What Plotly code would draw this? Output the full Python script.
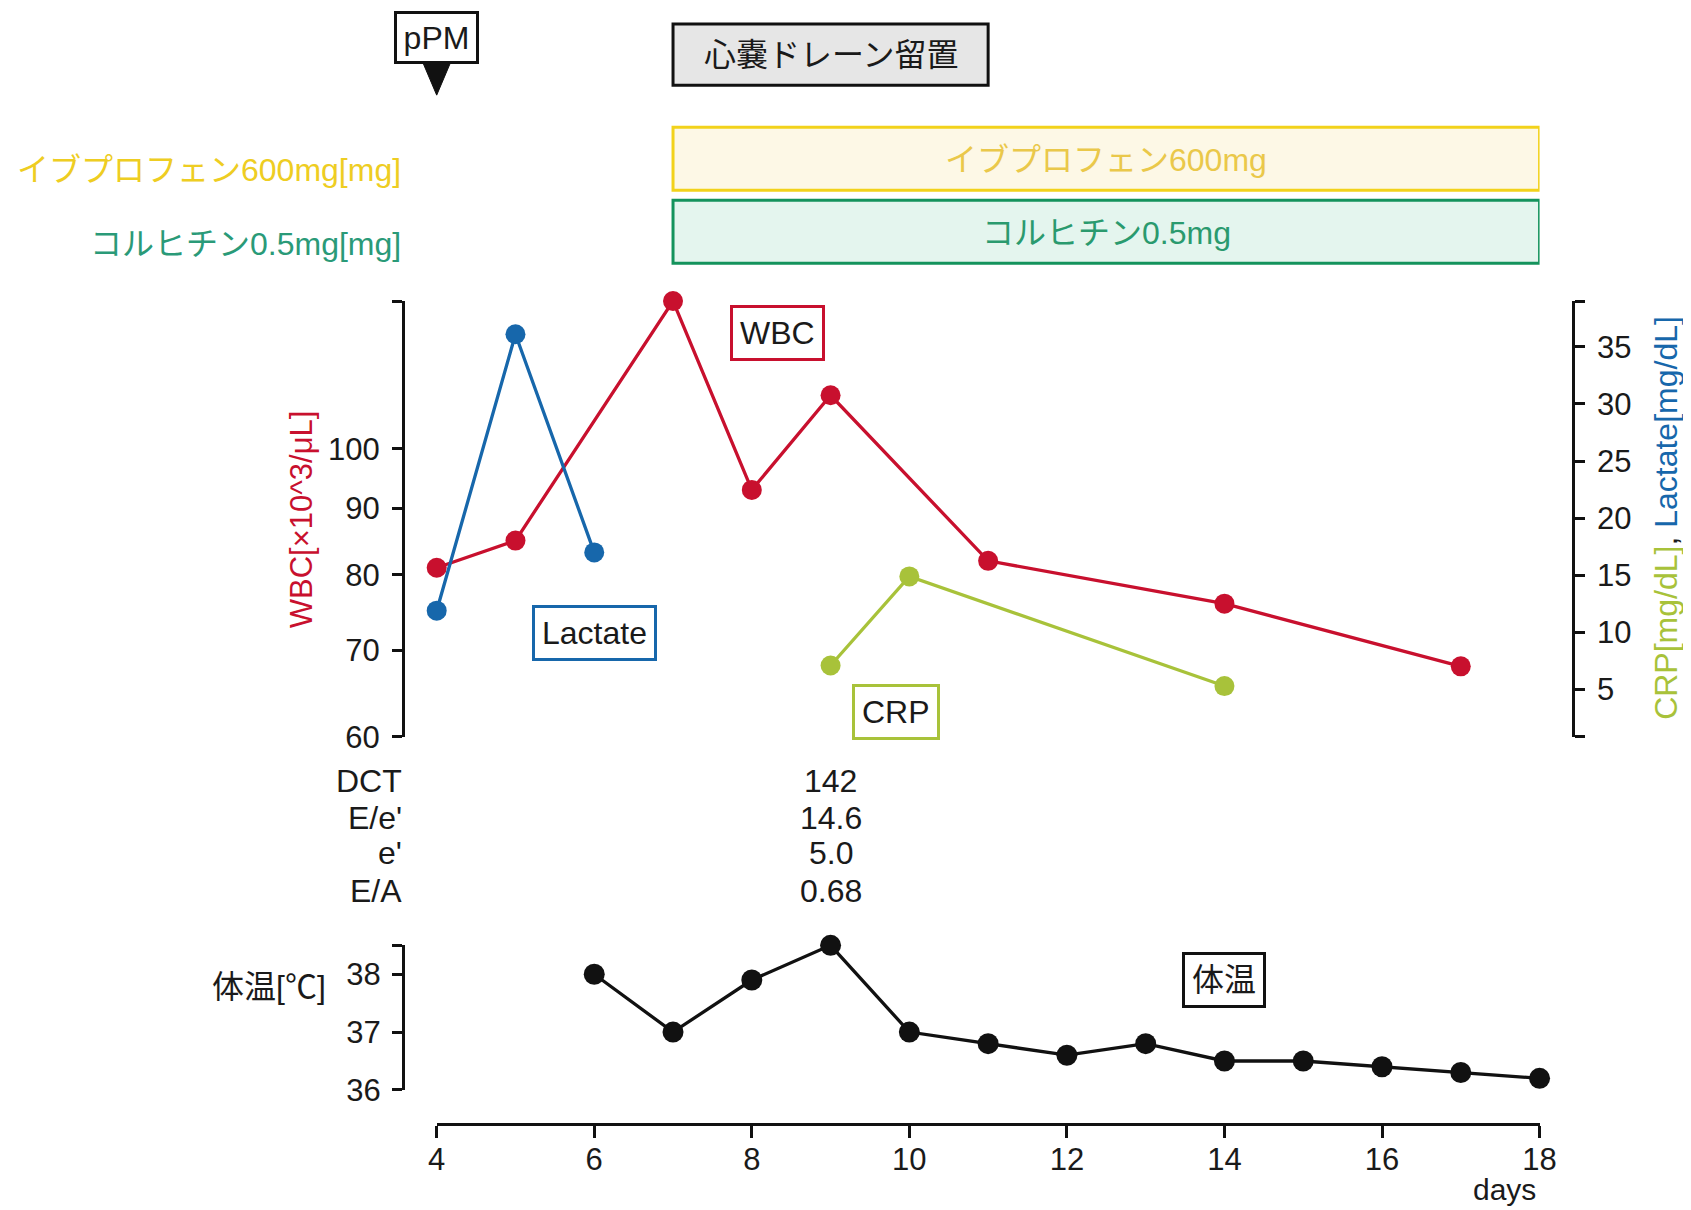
import math
import plotly.graph_objects as go

# ---------------- data ----------------
days_wbc = [4, 5, 7, 8, 9, 11, 14, 17]
wbc = [81, 85, 130, 93, 110, 82, 76, 68]

days_lac = [4, 5, 6]
lactate = [11.9, 36.1, 17.0]

days_crp = [9, 10, 14]
crp = [7.1, 14.9, 5.3]

days_temp = [6, 7, 8, 9, 10, 11, 12, 13, 14, 15, 16, 17, 18]
temp = [38.0, 37.0, 37.9, 38.5, 37.0, 36.8, 36.6, 36.8, 36.5, 36.5, 36.4, 36.3, 36.2]

echo_labels = ["DCT", "E/e'", "e'", "E/A"]
echo_day = 9
echo_values = ["142", "14.6", "5.0", "0.68"]

treat_names = ["イブプロフェン600mg", "コルヒチン0.5mg"]
treat_axis_labels = ["イブプロフェン600mg[mg]", "コルヒチン0.5mg[mg]"]
treat_start = [7, 7]
treat_end = [18, 18]

drain_label = "心嚢ドレーン留置"
drain_start, drain_end = 7, 11

event_label = "pPM"
event_day = 4

x_ticks = [4, 6, 8, 10, 12, 14, 16, 18]
wbc_ticks = [60, 70, 80, 90, 100]
right_ticks = [5, 10, 15, 20, 25, 30, 35]
temp_ticks = [36, 37, 38]

# ---------------- layout geometry ----------------
W, H = 1700, 1220          # figure size
MARGIN = 8                 # default page margin around the plot div
SCALE, OFFX = 0.985, 8.0   # observed page -> picture mapping


def px(sx):
    """target picture x pixel -> paper fraction"""
    return ((sx - OFFX) / SCALE - MARGIN) / W


def py(sy):
    """target picture y pixel -> paper fraction"""
    return 1 - (sy / SCALE - MARGIN) / H


FONT = "Liberation Sans, Arial, Noto Sans CJK JP, sans-serif"
FS = 32
TICKFS = 31
TXT = "#1a1a1a"
RED = "#c8102e"
BLUE = "#1767ab"
LIME = "#a8c23a"
BLACK = "#111111"
YEL_LINE, YEL_FILL, YEL_TXT = "#f2d21b", "#fdf8e6", "#eac84a"
GRN_LINE, GRN_FILL, GRN_TXT = "#14935c", "#e4f5ee", "#2a9a6e"
LW = 3.3

X_RANGE = [4, 18]
WBC_RANGE = [60, 130]
RIGHT_RANGE = [0.85, 39.0]
TEMP_RANGE = [36, 38.5]

fig = go.Figure()

line_kw = dict(mode="lines+markers", cliponaxis=False, showlegend=False)
fig.add_trace(go.Scatter(x=days_wbc, y=wbc, yaxis="y", line=dict(color=RED, width=LW),
                         marker=dict(size=20, color=RED), **line_kw))
fig.add_trace(go.Scatter(x=days_lac, y=lactate, yaxis="y2", line=dict(color=BLUE, width=LW),
                         marker=dict(size=20, color=BLUE), **line_kw))
fig.add_trace(go.Scatter(x=days_crp, y=crp, yaxis="y2", line=dict(color=LIME, width=LW),
                         marker=dict(size=20, color=LIME), **line_kw))
fig.add_trace(go.Scatter(x=days_temp, y=temp, yaxis="y3", line=dict(color=BLACK, width=LW),
                         marker=dict(size=21, color=BLACK), **line_kw))

axis_common = dict(showline=True, linewidth=3.2, linecolor=BLACK, ticks="outside",
                   tickwidth=3.2, tickcolor=BLACK, showgrid=False, zeroline=False,
                   tickfont=dict(size=TICKFS, color=TXT), tickmode="array")

shapes = []
annotations = []

# treatment bars
bar_y = [(127, 190), (200, 263)]
bar_cols = [(YEL_LINE, YEL_FILL, YEL_TXT), (GRN_LINE, GRN_FILL, GRN_TXT)]
label_y = [170, 244]
label_cols = ["#eecd22", "#2a9a78"]
for i, name in enumerate(treat_names):
    lc, fc, tc = bar_cols[i]
    shapes.append(dict(type="rect", xref="x", yref="paper", x0=treat_start[i], x1=treat_end[i],
                       y0=py(bar_y[i][1]), y1=py(bar_y[i][0]), fillcolor=fc,
                       line=dict(color=lc, width=3), layer="below"))
    annotations.append(dict(text=name, xref="x", yref="paper",
                            x=(treat_start[i] + treat_end[i]) / 2,
                            y=py((bar_y[i][0] + bar_y[i][1]) / 2 + 1), showarrow=False,
                            font=dict(size=FS, color=tc), xanchor="center", yanchor="middle"))
    annotations.append(dict(text=treat_axis_labels[i], xref="paper", yref="paper",
                            x=px(402), y=py(label_y[i]), showarrow=False,
                            font=dict(size=FS, color=label_cols[i]),
                            xanchor="right", yanchor="middle"))

# drain box
shapes.append(dict(type="rect", xref="x", yref="paper", x0=drain_start, x1=drain_end,
                   y0=py(85), y1=py(24), fillcolor="#e6e6e6",
                   line=dict(color=BLACK, width=3), layer="below"))
annotations.append(dict(text=drain_label, xref="x", yref="paper",
                        x=(drain_start + drain_end) / 2, y=py(55), showarrow=False,
                        font=dict(size=FS, color=TXT), xanchor="center", yanchor="middle"))

# pPM event marker (box + downward triangle)
annotations.append(dict(text=event_label, xref="x", yref="paper", x=event_day, y=py(37),
                        showarrow=False, font=dict(size=FS, color=TXT), bgcolor="white",
                        bordercolor=BLACK, borderwidth=3, borderpad=0, width=79, height=47,
                        xanchor="center", yanchor="middle"))
event_frac = (event_day - X_RANGE[0]) / (X_RANGE[1] - X_RANGE[0])
shapes.append(dict(type="path", xref="x domain", yref="paper", xsizemode="pixel",
                   ysizemode="pixel", xanchor=event_frac, yanchor=py(62),
                   path="M -14 0 L 14 0 L 0 -33 Z",
                   fillcolor=BLACK, line=dict(color=BLACK, width=1)))

# series label boxes
boxes = [("WBC", RED, 8.33, 333), ("Lactate", BLUE, 6.0, 633),
         ("CRP", LIME, 9.83, 712), ("体温", BLACK, 14.0, 980)]
for text, col, xd, yp in boxes:
    annotations.append(dict(text=text, xref="x", yref="paper", x=xd, y=py(yp),
                            showarrow=False, font=dict(size=FS, color=TXT), bgcolor="white",
                            bordercolor=col, borderwidth=3, borderpad=7,
                            xanchor="center", yanchor="middle"))

# echo table
echo_y = [781, 818, 853, 891]
for lab, val, yy in zip(echo_labels, echo_values, echo_y):
    annotations.append(dict(text=lab, xref="paper", yref="paper", x=px(403), y=py(yy),
                            showarrow=False, font=dict(size=FS, color=TXT),
                            xanchor="right", yanchor="middle"))
    annotations.append(dict(text=val, xref="x", yref="paper", x=echo_day, y=py(yy),
                            showarrow=False, font=dict(size=FS, color=TXT),
                            xanchor="center", yanchor="middle"))

# axis titles
annotations.append(dict(text="WBC[×10^3/μL]", xref="paper", yref="paper", x=px(300), y=py(519),
                        textangle=-90, showarrow=False, font=dict(size=FS - 1, color=RED),
                        xanchor="center", yanchor="middle"))
annotations.append(dict(text=f"<span style='color:{LIME}'>CRP[mg/dL]</span>, "
                             f"<span style='color:{BLUE}'>Lactate[mg/dL]</span>",
                        xref="paper", yref="paper", x=px(1666), y=py(518), textangle=-90,
                        showarrow=False, font=dict(size=FS, color=TXT),
                        xanchor="center", yanchor="middle"))
annotations.append(dict(text="体温[℃]", xref="paper", yref="paper", x=px(327), y=py(987),
                        showarrow=False, font=dict(size=FS, color=TXT),
                        xanchor="right", yanchor="middle"))
annotations.append(dict(text="days", xref="paper", yref="paper", x=px(1504), y=py(1189),
                        showarrow=False, font=dict(size=30, color=TXT),
                        xanchor="center", yanchor="middle"))

fig.update_layout(
    width=W, height=H, margin=dict(l=0, r=0, t=0, b=0),
    paper_bgcolor="white", plot_bgcolor="rgba(0,0,0,0)",
    font=dict(family=FONT, size=FS, color=TXT),
    showlegend=False,
    xaxis=dict(domain=[px(435.7), px(1538.9)], range=X_RANGE, anchor="free",
               position=py(1124), tickvals=x_ticks, ticklen=12, ticklabelstandoff=-6,
               **axis_common),
    yaxis=dict(type="log", domain=[py(736.6), py(300.9)],
               range=[math.log10(WBC_RANGE[0]), math.log10(WBC_RANGE[1])],
               anchor="free", position=px(402), side="left",
               tickvals=wbc_ticks + [WBC_RANGE[1]],
               ticktext=[str(v) for v in wbc_ticks] + [""], ticklen=10,
               ticklabelstandoff=6, **axis_common),
    yaxis2=dict(overlaying="y", range=RIGHT_RANGE, anchor="free", position=px(1572),
                side="right", tickvals=[RIGHT_RANGE[0]] + right_ticks + [RIGHT_RANGE[1]],
                ticktext=[""] + [str(v) for v in right_ticks] + [""], ticklen=10,
                ticklabelstandoff=6, **axis_common),
    yaxis3=dict(domain=[py(1089.5), py(945)], range=TEMP_RANGE, anchor="free",
                position=px(402), side="left",
                tickvals=temp_ticks + [TEMP_RANGE[1]],
                ticktext=[str(v) for v in temp_ticks] + [""], ticklen=10,
                ticklabelstandoff=5, **axis_common),
    shapes=shapes,
    annotations=annotations,
)

fig.write_html("out.html", config={"displayModeBar": False})
